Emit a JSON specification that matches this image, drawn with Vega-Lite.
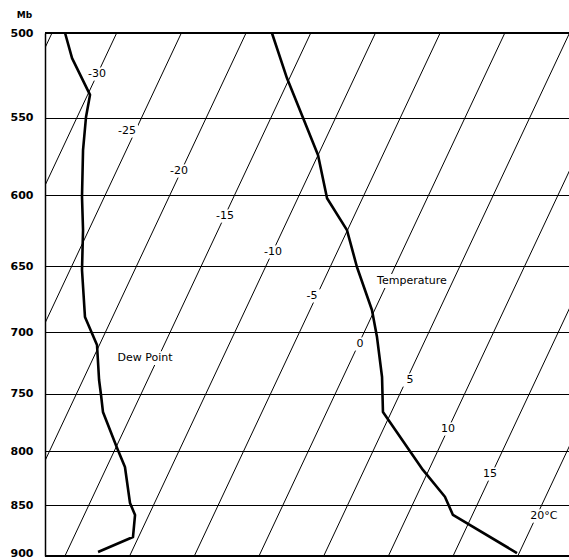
{
  "$schema": "https://vega.github.io/schema/vega-lite/v6.json",
  "width": 524,
  "height": 523,
  "autosize": {"type": "none"},
  "padding": {"left": 45, "top": 33, "right": 0, "bottom": 4},
  "background": "white",
  "config": {"view": {"stroke": null}, "font": "DejaVu Sans"},
  "datasets": {
    "isotherms": [
      {"iso": -35, "p": 500, "x": -16.0}, {"iso": -35, "p": 900, "x": -35},
      {"iso": -30, "p": 500, "x": -11.0}, {"iso": -30, "p": 900, "x": -30},
      {"iso": -25, "p": 500, "x": -6.0}, {"iso": -25, "p": 900, "x": -25},
      {"iso": -20, "p": 500, "x": -1.0}, {"iso": -20, "p": 900, "x": -20},
      {"iso": -15, "p": 500, "x": 4.0}, {"iso": -15, "p": 900, "x": -15},
      {"iso": -10, "p": 500, "x": 9.0}, {"iso": -10, "p": 900, "x": -10},
      {"iso": -5, "p": 500, "x": 14.0}, {"iso": -5, "p": 900, "x": -5},
      {"iso": 0, "p": 500, "x": 19.0}, {"iso": 0, "p": 900, "x": 0},
      {"iso": 5, "p": 500, "x": 24.0}, {"iso": 5, "p": 900, "x": 5},
      {"iso": 10, "p": 500, "x": 29.0}, {"iso": 10, "p": 900, "x": 10},
      {"iso": 15, "p": 500, "x": 34.0}, {"iso": 15, "p": 900, "x": 15},
      {"iso": 20, "p": 500, "x": 39.0}, {"iso": 20, "p": 900, "x": 20}
    ],
    "temperature": [
      {"p": 500, "x": 1.00}, {"p": 526, "x": 2.16}, {"p": 550, "x": 3.40},
      {"p": 573.5, "x": 4.56}, {"p": 602, "x": 5.26}, {"p": 624, "x": 6.80},
      {"p": 650.4, "x": 7.57}, {"p": 682.6, "x": 8.73}, {"p": 703.7, "x": 9.12},
      {"p": 736, "x": 9.51}, {"p": 765.5, "x": 9.58}, {"p": 817, "x": 12.67},
      {"p": 842, "x": 14.37}, {"p": 859.4, "x": 14.99}, {"p": 897, "x": 19.94}
    ],
    "dewpoint": [
      {"p": 500, "x": -14.99}, {"p": 514.3, "x": -14.45}, {"p": 536, "x": -13.06},
      {"p": 549.5, "x": -13.37}, {"p": 570.3, "x": -13.60}, {"p": 601.2, "x": -13.68},
      {"p": 623.9, "x": -13.60}, {"p": 652.6, "x": -13.68}, {"p": 688, "x": -13.45},
      {"p": 710, "x": -12.52}, {"p": 738.5, "x": -12.36}, {"p": 751, "x": -12.21},
      {"p": 765.5, "x": -12.06}, {"p": 797.1, "x": -10.97}, {"p": 814.3, "x": -10.36},
      {"p": 848, "x": -9.97}, {"p": 859.4, "x": -9.58}, {"p": 881, "x": -9.74},
      {"p": 896, "x": -12.44}
    ],
    "labels": [
      {"label": "-30", "p": 523.6, "x": -12.52},
      {"label": "-25", "p": 558.2, "x": -10.20},
      {"label": "-20", "p": 583.9, "x": -6.18},
      {"label": "-15", "p": 614.2, "x": -2.63},
      {"label": "-10", "p": 639.5, "x": 1.08},
      {"label": "-5", "p": 671.9, "x": 4.10},
      {"label": "0", "p": 709.2, "x": 7.81},
      {"label": "5", "p": 738.5, "x": 11.67},
      {"label": "10", "p": 780.3, "x": 14.61},
      {"label": "15", "p": 820.8, "x": 17.85},
      {"label": "20°C", "p": 860.4, "x": 22.02},
      {"label": "Temperature", "p": 660.7, "x": 11.82},
      {"label": "Dew Point", "p": 720.5, "x": -8.81}
    ],
    "frame": [{"p": 500}, {"p": 900}]
  },
  "layer": [
    {
      "data": {"name": "isotherms"},
      "mark": {"type": "line", "color": "black", "strokeWidth": 1, "clip": true},
      "encoding": {
        "x": {"field": "x", "type": "quantitative", "scale": {"domain": [-16.54, 23.96], "nice": false, "zero": false}, "axis": null},
        "y": {"field": "p", "type": "quantitative", "title": "Mb",
              "scale": {"type": "log", "domain": [500, 900], "reverse": true, "nice": false},
              "axis": {"values": [500, 550, 600, 650, 700, 750, 800, 850, 900], "format": "d",
                       "grid": true, "gridColor": "black", "gridOpacity": 1, "gridWidth": 1,
                       "ticks": false, "domain": true, "domainColor": "black", "domainWidth": 1.5,
                       "labelFontSize": 11, "labelFontWeight": "bold", "labelColor": "black", "labelPadding": 12,
                       "labelBaseline": "middle",
                       "labelOffset": {"condition": {"test": "datum.value == 900", "value": -3}, "value": 0},
                       "titleAngle": 0, "titleX": -21, "titleY": -19, "titleAlign": "center", "titleBaseline": "middle",
                       "titleFontSize": 9, "titleFontWeight": "bold", "titleColor": "black"}},
        "detail": {"field": "iso", "type": "nominal"}
      }
    },
    {
      "data": {"name": "labels"},
      "transform": [{"filter": {"field": "label", "oneOf": ["-30", "-25", "-20", "-15", "-10", "-5", "0", "5", "10", "15"]}}],
      "mark": {"type": "point", "shape": "M-1,-0.6H1V0.6H-1Z", "size": 484, "filled": true, "fill": "white", "opacity": 1, "strokeWidth": 0},
      "encoding": {
        "x": {"field": "x", "type": "quantitative"},
        "y": {"field": "p", "type": "quantitative", "title": "Mb"}
      }
    },
    {
      "data": {"name": "labels"},
      "transform": [{"filter": {"field": "label", "equal": "20°C"}}],
      "mark": {"type": "point", "shape": "M-1,-0.45H1V0.45H-1Z", "size": 900, "filled": true, "fill": "white", "opacity": 1, "strokeWidth": 0},
      "encoding": {
        "x": {"field": "x", "type": "quantitative"},
        "y": {"field": "p", "type": "quantitative", "title": "Mb"}
      }
    },
    {
      "data": {"name": "labels"},
      "transform": [{"filter": {"field": "label", "equal": "Temperature"}}],
      "mark": {"type": "point", "shape": "M-1,-0.19H1V0.19H-1Z", "size": 5476, "filled": true, "fill": "white", "opacity": 1, "strokeWidth": 0},
      "encoding": {
        "x": {"field": "x", "type": "quantitative"},
        "y": {"field": "p", "type": "quantitative", "title": "Mb"}
      }
    },
    {
      "data": {"name": "labels"},
      "transform": [{"filter": {"field": "label", "equal": "Dew Point"}}],
      "mark": {"type": "point", "shape": "M-1,-0.23H1V0.23H-1Z", "size": 3600, "filled": true, "fill": "white", "opacity": 1, "strokeWidth": 0},
      "encoding": {
        "x": {"field": "x", "type": "quantitative"},
        "y": {"field": "p", "type": "quantitative", "title": "Mb"}
      }
    },
    {
      "data": {"name": "frame"},
      "mark": {"type": "rule", "color": "black", "strokeWidth": 2},
      "encoding": {
        "y": {"field": "p", "type": "quantitative", "title": "Mb"}
      }
    },
    {
      "data": {"name": "temperature"},
      "mark": {"type": "line", "color": "black", "strokeWidth": 2.6, "strokeJoin": "round"},
      "encoding": {
        "x": {"field": "x", "type": "quantitative"},
        "y": {"field": "p", "type": "quantitative", "title": "Mb"},
        "order": {"field": "p", "type": "quantitative"}
      }
    },
    {
      "data": {"name": "dewpoint"},
      "mark": {"type": "line", "color": "black", "strokeWidth": 2.6, "strokeJoin": "round"},
      "encoding": {
        "x": {"field": "x", "type": "quantitative"},
        "y": {"field": "p", "type": "quantitative", "title": "Mb"},
        "order": {"field": "p", "type": "quantitative"}
      }
    },
    {
      "data": {"name": "labels"},
      "mark": {"type": "text", "color": "black", "fontSize": 11, "align": "center", "baseline": "middle", "font": "DejaVu Sans"},
      "encoding": {
        "x": {"field": "x", "type": "quantitative"},
        "y": {"field": "p", "type": "quantitative", "title": "Mb"},
        "text": {"field": "label", "type": "nominal"}
      }
    }
  ]
}
